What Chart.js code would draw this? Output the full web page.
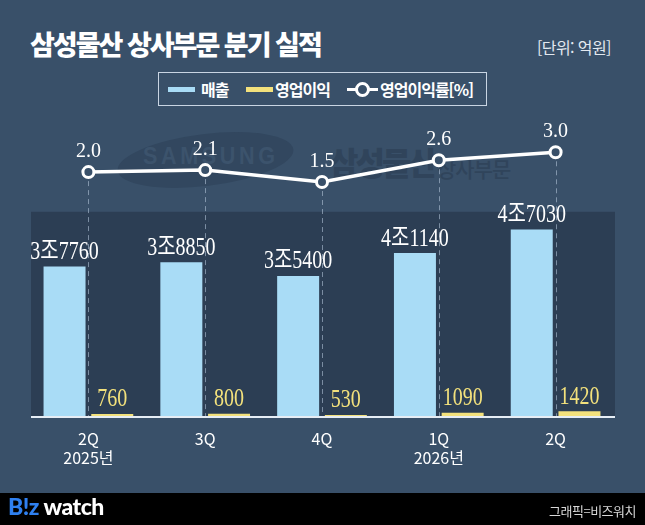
<!DOCTYPE html>
<html lang="ko">
<head>
<meta charset="utf-8">
<script src="https://cdn.jsdelivr.net/npm/chart.js@4"></script>
<style>
  html, body { margin: 0; padding: 0; }
  body {
    width: 645px; height: 525px; position: relative; overflow: hidden;
    background: #395069; font-family: "Noto Sans CJK KR", "Noto Sans", sans-serif;
  }
  .abs { position: absolute; }
  #title {
    left: 30px; top: 24px; color: #fff; font-size: 27px; font-weight: 900;
    letter-spacing: -2px; white-space: nowrap;
  }
  #unit { left: 537px; top: 35px; color: #e3e9f0; font-size: 16px; letter-spacing: -0.6px; }
  #legend {
    left: 158px; top: 72px; width: 327px; height: 32px;
    border: 1.5px solid #c9d5e3;
  }
  .sw { top: 14px; width: 27px; height: 5px; }
  .lt { top: 4px; color: #fff; font-size: 16px; letter-spacing: -1px; font-weight: 700; }
  #ellipse {
    left: 117px; top: 134px; width: 177px; height: 52px; border-radius: 50%;
    background: #32475f; transform: rotate(-7deg);
  }
  #wmSam {
    left: 143px; top: 142px; color: #3c536c; font-family: "Liberation Sans Narrow", "Liberation Sans", sans-serif;
    font-weight: 700; font-size: 24px; letter-spacing: 4px; transform: scaleX(0.9); transform-origin: left;
  }
  #wmKr1 { left: 329px; top: 138px; color: #30445b; font-size: 32px; font-weight: 900; letter-spacing: -3px; }
  #wmKr2 { left: 437px; top: 153px; color: #30445b; font-size: 21px; font-weight: 500; letter-spacing: -1px; }
  #footer { left: 0; top: 493px; width: 645px; height: 32px; background: #000; }
  #logo {
    left: 8px; top: -1px; font-family: Lato, "Open Sans", sans-serif; font-weight: 900; font-size: 23px;
    color: #fff; letter-spacing: -0.5px;
  }
  #logo span { color: #2f80f0; }
  #credit { right: 9px; top: 8px; color: #d8d8d8; font-size: 13px; letter-spacing: -0.5px; }
  #chart { left: 0; top: 0; }
</style>
</head>
<body>
<div id="ellipse" class="abs"></div>
<div id="wmSam" class="abs">SAMSUNG</div>
<div id="wmKr1" class="abs">삼성물산</div>
<div id="wmKr2" class="abs">상사부문</div>

<div id="title" class="abs">삼성물산 상사부문 분기 실적</div>
<div id="unit" class="abs">[단위: 억원]</div>

<div id="legend" class="abs">
  <div class="abs sw" style="left:9px;background:#a9dcf6"></div>
  <div class="abs lt" style="left:42px">매출</div>
  <div class="abs sw" style="left:87px;background:#f3e17c"></div>
  <div class="abs lt" style="left:116px">영업이익</div>
  <div class="abs" style="left:188px;top:15px;width:31px;height:3px;background:#fff"></div>
  <div class="abs" style="left:196px;top:9px;width:9px;height:9px;border:3px solid #fff;border-radius:50%;background:#395069"></div>
  <div class="abs lt" style="left:221px">영업이익률[%]</div>
</div>

<canvas id="chart" class="abs" width="645" height="525"></canvas>

<div id="footer" class="abs">
  <div id="logo" class="abs"><span>B!z</span> watch</div>
  <div id="credit" class="abs">그래픽=비즈워치</div>
</div>

<script>
// quarters on the x axis (second line = year)
const quarters = [['2Q', '2025년'], ['3Q'], ['4Q'], ['1Q', '2026년'], ['2Q']];
// 억원
const sales = [37760, 38850, 35400, 41140, 47030];
const opProfit = [760, 800, 530, 1090, 1420];
// %
const opMargin = [2.0, 2.1, 1.5, 2.6, 3.0];

const BG = '#395069';
const PANEL = '#2c3e54';
const BLUE = '#a9dcf6';
const YELLOW = '#f3e17c';

function salesLabel(v) {
  return Math.floor(v / 10000) + '조' + (v % 10000);
}

// dark panel behind bars, dashed guides from each point, white baseline
const decor = {
  id: 'decor',
  beforeDatasetsDraw(chart) {
    const { ctx, chartArea: a, scales } = chart;
    const top = scales.yBar.getPixelForValue(51500);
    ctx.save();
    ctx.fillStyle = PANEL;
    ctx.fillRect(a.left + 1, top, a.right - a.left, a.bottom - top);
    const pts = chart.getDatasetMeta(2).data;
    ctx.strokeStyle = 'rgba(190,205,225,0.55)';
    ctx.lineWidth = 1;
    ctx.setLineDash([5, 4]);
    pts.forEach(p => {
      ctx.beginPath();
      ctx.moveTo(Math.round(p.x) + 0.5, p.y + 9);
      ctx.lineTo(Math.round(p.x) + 0.5, a.bottom);
      ctx.stroke();
    });
    ctx.restore();
  },
  afterDatasetsDraw(chart) {
    const { ctx, chartArea: a } = chart;
    ctx.save();
    ctx.strokeStyle = '#e6edf5';
    ctx.lineWidth = 2;
    ctx.beginPath();
    ctx.moveTo(a.left + 1, a.bottom);
    ctx.lineTo(a.right + 1, a.bottom);
    ctx.stroke();
    ctx.restore();
  }
};

// value labels
const labels = {
  id: 'labels',
  afterDraw(chart) {
    const ctx = chart.ctx;
    ctx.save();
    ctx.textAlign = 'center';
    ctx.textBaseline = 'alphabetic';
    const drawNarrow = (text, x, y, color) => {
      ctx.save();
      ctx.translate(x, y);
      ctx.scale(0.8, 1);
      ctx.fillStyle = color;
      ctx.font = '25px "Liberation Serif", "Noto Sans CJK KR", serif';
      ctx.fillText(text, 0, 0);
      ctx.restore();
    };
    chart.getDatasetMeta(0).data.forEach((b, i) => drawNarrow(salesLabel(sales[i]), b.x, b.y - 7.5, '#ffffff'));
    chart.getDatasetMeta(1).data.forEach((b, i) => drawNarrow(String(opProfit[i]), b.x, b.y - 7.5, YELLOW));
    ctx.fillStyle = '#ffffff';
    ctx.font = '20px "Liberation Serif", serif';
    chart.getDatasetMeta(2).data.forEach((p, i) => ctx.fillText(opMargin[i].toFixed(1), p.x, p.y - 15));
    ctx.restore();
  }
};

new Chart(document.getElementById('chart').getContext('2d'), {
  type: 'bar',
  data: {
    labels: quarters,
    datasets: [
      {
        label: '매출',
        data: sales,
        backgroundColor: BLUE,
        yAxisID: 'yBar',
        categoryPercentage: 0.817,
        barPercentage: 0.88,
        order: 1
      },
      {
        label: '영업이익',
        data: opProfit,
        backgroundColor: YELLOW,
        yAxisID: 'yBar',
        categoryPercentage: 0.817,
        barPercentage: 0.88,
        order: 1
      },
      {
        type: 'line',
        label: '영업이익률[%]',
        data: opMargin,
        yAxisID: 'yLine',
        borderColor: '#ffffff',
        borderWidth: 3.5,
        pointRadius: 5.5,
        pointBorderWidth: 3,
        pointBorderColor: '#ffffff',
        pointBackgroundColor: BG,
        tension: 0,
        clip: false,
        order: 0
      }
    ]
  },
  options: {
    responsive: false,
    animation: false,
    layout: { padding: { left: 30, right: 31, top: 120, bottom: 35 } },
    plugins: {
      legend: { display: false },
      tooltip: { enabled: false }
    },
    scales: {
      x: {
        grid: { display: false },
        border: { display: false },
        afterFit(scale) { scale.height = 73; },
        ticks: {
          color: '#ffffff',
          padding: 5,
          maxRotation: 0,
          autoSkip: false,
          font: { family: '"Noto Sans CJK KR", sans-serif', size: 16, lineHeight: 1.15 }
        }
      },
      yBar: { display: false, min: 0, max: 74530 },
      yLine: { display: false, min: -10.369, max: 4.631 }
    }
  },
  plugins: [decor, labels]
});
</script>
</body>
</html>
